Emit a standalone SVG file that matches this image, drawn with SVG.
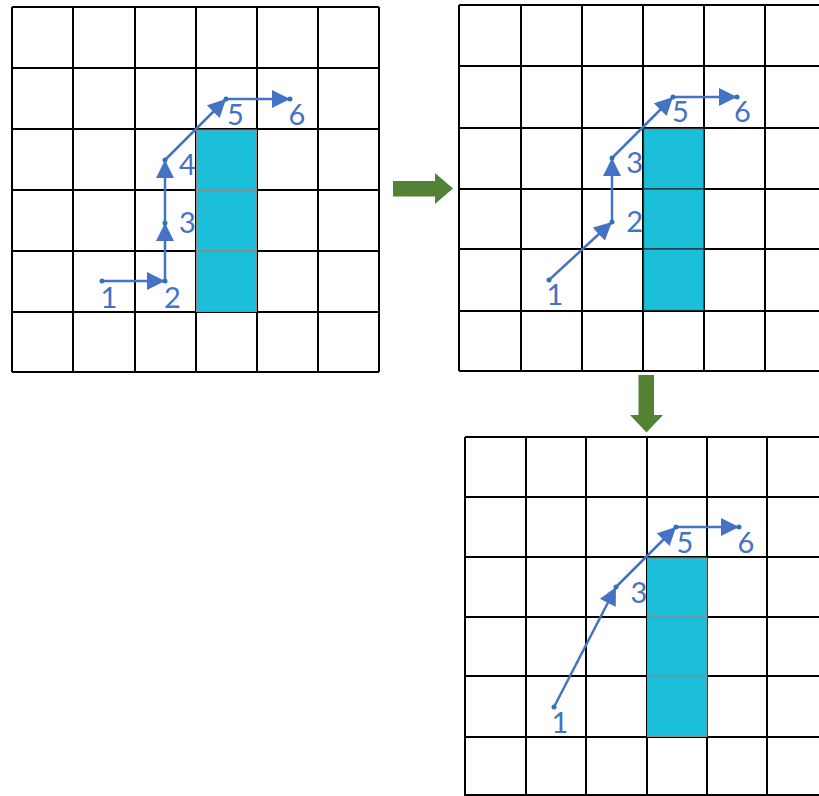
<svg xmlns="http://www.w3.org/2000/svg" width="819" height="796" viewBox="0 0 819 796">
<style>
.grid{fill:none;stroke:#000;stroke-width:2}
.cell{fill:#1BBFD9;stroke:#8a8a8a;stroke-width:1}
.cell2{fill:#1BBFD9;stroke:#2a2a2a;stroke-width:1.2}
.path{stroke:#4472C4;stroke-width:2.5;fill:none;marker-end:url(#ah)}
.dot{fill:#2E75B6}
.lbl{font-family:Lato,"Open Sans","Liberation Sans",sans-serif;font-size:29px;fill:#4472C4;text-anchor:middle}
.big{fill:#548235}
</style>
<defs>
<marker id="ah" markerUnits="userSpaceOnUse" markerWidth="20" markerHeight="20" refX="18" refY="9" orient="auto">
<path d="M0,0 L18,9 L0,18 z" fill="#4472C4"/>
</marker>
</defs>
<rect width="819" height="796" fill="#fff"/>

<g id="grid1">
<path class="grid" d="M12,7V372M73,7V372M135,7V372M196,7V372M257,7V372M318,7V372M379,7V372M12,7H379M12,68H379M12,129H379M12,190H379M12,251H379M12,312H379M12,372H379"/>
<rect class="cell" x="196.5" y="130" width="60" height="60"/>
<rect class="cell" x="196.5" y="190.5" width="60" height="60"/>
<rect class="cell" x="196.5" y="251" width="60" height="60.5"/>
<text class="lbl" x="109" y="308">1</text>
<text class="lbl" x="172.5" y="308">2</text>
<text class="lbl" x="187.5" y="233">3</text>
<text class="lbl" x="187.5" y="175">4</text>
<text class="lbl" x="235.5" y="125">5</text>
<text class="lbl" x="297" y="125">6</text>
</g>

<g id="grid2">
<path class="grid" d="M459,5V371M521,5V371M582,5V371M643,5V371M704,5V371M765,5V371M826,5V371M459,5H826M459,66H826M459,128H826M459,189H826M459,249H826M459,311H826M459,371H826"/>
<rect class="cell2" x="643.5" y="128.5" width="60.5" height="60.5"/>
<rect class="cell2" x="643.5" y="189" width="60.5" height="60"/>
<rect class="cell2" x="643.5" y="249" width="60.5" height="61.5"/>
<text class="lbl" x="555" y="305">1</text>
<text class="lbl" x="634.7" y="232">2</text>
<text class="lbl" x="634.7" y="173">3</text>
<text class="lbl" x="680.5" y="122">5</text>
<text class="lbl" x="742.5" y="122">6</text>
</g>

<g id="grid3">
<path class="grid" d="M465,437V796M526,437V796M586,437V796M647,437V796M707,437V796M767,437V796M827,437V796M465,437H827M465,497H827M465,557H827M465,617H827M465,676H827M465,737H827M465,795H827"/>
<rect class="cell" x="647.5" y="558" width="59.5" height="59"/>
<rect class="cell" x="647.5" y="617" width="59.5" height="59"/>
<rect class="cell" x="647.5" y="676" width="59.5" height="60.5"/>
<text class="lbl" x="560" y="733">1</text>
<text class="lbl" x="639" y="603">3</text>
<text class="lbl" x="685" y="553">5</text>
<text class="lbl" x="746" y="553">6</text>
</g>

<g id="connectors">
<path class="path" d="M102,281H165"/>
<path class="path" d="M165,281V223"/>
<path class="path" d="M165,223V160"/>
<path class="path" d="M165,160L226,99"/>
<path class="path" d="M226,99H290"/>
<path class="path" d="M549,280L612,222"/>
<path class="path" d="M612,222V158"/>
<path class="path" d="M612,158L673,97"/>
<path class="path" d="M673,97H737"/>
<path class="path" d="M554,707L616,587"/>
<path class="path" d="M616,587L676,527"/>
<path class="path" d="M676,527H739"/>
<polygon class="big" points="393,181 435,181 435,173 453,188.5 435,204 435,196.5 393,196.5"/>
<polygon class="big" points="638.5,375 654,375 654,415 663,415 646.5,432.5 630,415 638.5,415"/>
</g>

<g id="points">
<circle class="dot" cx="102" cy="281" r="2.5"/>
<circle class="dot" cx="165" cy="281" r="2.5"/>
<circle class="dot" cx="165" cy="223" r="2.5"/>
<circle class="dot" cx="165" cy="160" r="2.5"/>
<circle class="dot" cx="226" cy="99" r="2.5"/>
<circle class="dot" cx="290" cy="99" r="2.5"/>
<circle class="dot" cx="549" cy="280" r="2.5"/>
<circle class="dot" cx="612" cy="222" r="2.5"/>
<circle class="dot" cx="612" cy="158" r="2.5"/>
<circle class="dot" cx="673" cy="97" r="2.5"/>
<circle class="dot" cx="737" cy="97" r="2.5"/>
<circle class="dot" cx="554" cy="707" r="2.5"/>
<circle class="dot" cx="616" cy="587" r="2.5"/>
<circle class="dot" cx="676" cy="527" r="2.5"/>
<circle class="dot" cx="739" cy="527" r="2.5"/>
</g>
</svg>
